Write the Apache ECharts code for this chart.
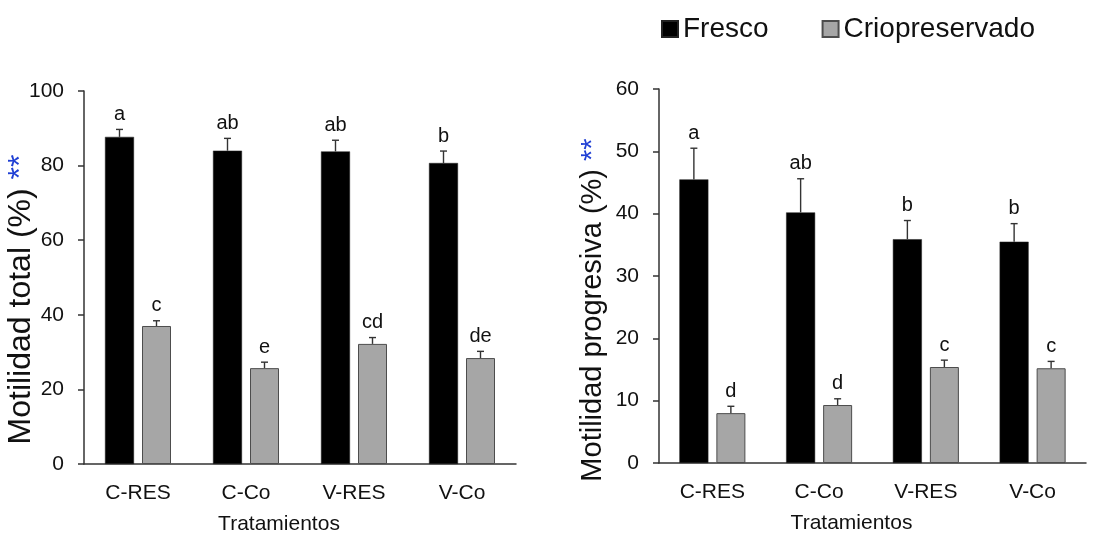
<!DOCTYPE html>
<html>
<head>
<meta charset="utf-8">
<script src="https://cdn.jsdelivr.net/npm/echarts@6/dist/echarts.min.js"></script>
<style>
html,body{margin:0;padding:0;background:#fff;}
#chart{width:1119px;height:536px;}
</style>
</head>
<body>
<div id="chart"></div>
<script>
// ---- data ----
const categories = ['C-RES', 'C-Co', 'V-RES', 'V-Co'];
const seriesNames = ['Fresco', 'Criopreservado'];

const totalFresco = [87.7, 84.0, 83.8, 80.7];
const totalFrescoErr = [2.0, 3.3, 3.0, 3.2];
const totalFrescoLetters = ['a', 'ab', 'ab', 'b'];
const totalCrio = [37.0, 25.7, 32.2, 28.4];
const totalCrioErr = [1.4, 1.6, 1.7, 1.8];
const totalCrioLetters = ['c', 'e', 'cd', 'de'];

const progFresco = [45.5, 40.2, 35.9, 35.5];
const progFrescoErr = [5.0, 5.4, 3.0, 2.9];
const progFrescoLetters = ['a', 'ab', 'b', 'b'];
const progCrio = [8.0, 9.3, 15.4, 15.2];
const progCrioErr = [1.1, 1.0, 1.1, 1.1];
const progCrioLetters = ['d', 'd', 'c', 'c'];

const totalTicks = [0, 20, 40, 60, 80, 100];
const progTicks = [0, 10, 20, 30, 40, 50, 60];

// ---- style ----
const FONT = "'Liberation Sans', Arial, Helvetica, sans-serif";
const BAR_W = 29;
const GAP_PX = 8;
const AXIS_COLOR = '#333';
const TEXT_COLOR = '#111';
const FRESCO_COLOR = '#000000';
const CRIO_COLOR = '#a6a6a6';
const CRIO_BORDER = '#4d4d4d';

const chart = echarts.init(document.getElementById('chart'));

function errSeries(name, xAxisIndex, values, errs, letters, sign) {
  return {
    type: 'custom',
    name: name + ' err',
    xAxisIndex: xAxisIndex,
    yAxisIndex: xAxisIndex,
    silent: true,
    z: 5,
    clip: false,
    data: values.map((v, i) => [i, v, errs[i]]),
    renderItem: function (params, api) {
      const cat = api.value(0), v = api.value(1), e = api.value(2);
      const base = api.coord([cat, v]);
      const top = api.coord([cat, v + e]);
      const x = base[0] + sign * (BAR_W + GAP_PX) / 2;
      const lineStyle = { stroke: '#333', lineWidth: 1.4 };
      return {
        type: 'group',
        children: [
          { type: 'line', shape: { x1: x, y1: base[1], x2: x, y2: top[1] }, style: lineStyle },
          { type: 'line', shape: { x1: x - 3.5, y1: top[1], x2: x + 3.5, y2: top[1] }, style: lineStyle },
          {
            type: 'text',
            style: {
              text: letters[params.dataIndex],
              x: x, y: top[1] - 5,
              align: 'center', verticalAlign: 'bottom',
              fontSize: 20, fontFamily: FONT, fill: TEXT_COLOR
            }
          }
        ]
      };
    }
  };
}

function barSeries(name, idx, values, isCrio) {
  return {
    type: 'bar',
    name: name,
    xAxisIndex: idx,
    yAxisIndex: idx,
    barWidth: BAR_W,
    barGap: (GAP_PX / BAR_W * 100).toFixed(1) + '%',
    data: values,
    itemStyle: isCrio
      ? { color: CRIO_COLOR, borderColor: CRIO_BORDER, borderWidth: 1 }
      : { color: FRESCO_COLOR, borderColor: '#222', borderWidth: 0.5 }
  };
}

function xAxis(gridIndex) {
  return {
    type: 'category',
    gridIndex: gridIndex,
    data: categories,
    name: 'Tratamientos',
    nameLocation: 'middle',
    nameGap: 50,
    nameMoveOverlap: false,
    nameTextStyle: { fontSize: 21, fontFamily: FONT, color: TEXT_COLOR, padding: [0, 42, 0, 0] },
    axisLine: { lineStyle: { color: AXIS_COLOR, width: 1.5 } },
    axisTick: { length: 7, lineStyle: { color: AXIS_COLOR, width: 1.5 } },
    axisLabel: { fontSize: 21, fontFamily: FONT, color: TEXT_COLOR, margin: 19 }
  };
}

function yAxis(gridIndex, name, ticks, fontSize, padRight, gap) {
  return {
    type: 'value',
    gridIndex: gridIndex,
    min: ticks[0],
    max: ticks[ticks.length - 1],
    interval: ticks[1] - ticks[0],
    name: name,
    nameLocation: 'middle',
    nameGap: gap,
    nameMoveOverlap: false,
    nameTextStyle: {
      fontSize: fontSize, fontFamily: FONT, color: TEXT_COLOR,
      padding: [0, padRight, 0, 0],
      rich: { s: { fontSize: fontSize, fontFamily: FONT, color: '#1f3fd4' } }
    },
    axisLine: { show: true, lineStyle: { color: AXIS_COLOR, width: 1.5 } },
    axisTick: { show: true, length: 6, lineStyle: { color: AXIS_COLOR, width: 1.5 } },
    axisLabel: { fontSize: 21, fontFamily: FONT, color: TEXT_COLOR, margin: 20 },
    splitLine: { show: false }
  };
}

chart.setOption({
  animation: false,
  textStyle: { fontFamily: FONT },
  legend: {
    data: seriesNames,
    left: 656,
    top: 10,
    itemWidth: 16,
    itemHeight: 16,
    itemGap: 53,
    icon: 'rect',
    textStyle: { fontSize: 28, fontFamily: FONT, color: TEXT_COLOR }
  },
  grid: [
    { left: 84, top: 91, right: 603, bottom: 72, outerBoundsMode: 'none', containLabel: false },
    { left: 659, top: 89, right: 33, bottom: 73, outerBoundsMode: 'none', containLabel: false }
  ],
  xAxis: [xAxis(0), xAxis(1)],
  yAxis: [
    yAxis(0, 'Motilidad total (%) {s|**}', totalTicks, 32, 44, 47),
    yAxis(1, 'Motilidad progresiva (%) {s|**}', progTicks, 29, 68, 52)
  ],
  series: [
    barSeries(seriesNames[0], 0, totalFresco, false),
    barSeries(seriesNames[1], 0, totalCrio, true),
    barSeries(seriesNames[0], 1, progFresco, false),
    barSeries(seriesNames[1], 1, progCrio, true),
    errSeries(seriesNames[0], 0, totalFresco, totalFrescoErr, totalFrescoLetters, -1),
    errSeries(seriesNames[1], 0, totalCrio, totalCrioErr, totalCrioLetters, 1),
    errSeries(seriesNames[0], 1, progFresco, progFrescoErr, progFrescoLetters, -1),
    errSeries(seriesNames[1], 1, progCrio, progCrioErr, progCrioLetters, 1)
  ]
});
</script>
</body>
</html>
